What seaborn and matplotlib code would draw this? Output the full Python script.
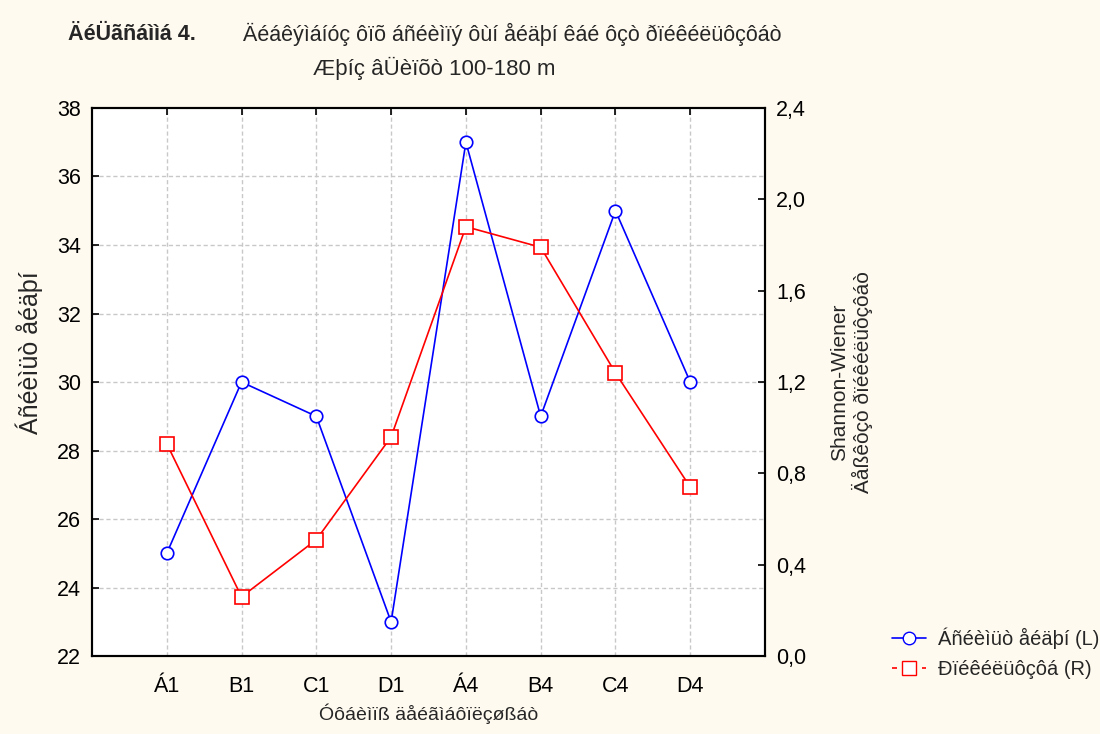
import matplotlib
matplotlib.use("Agg")
import matplotlib.pyplot as plt
import seaborn as sns
import pandas as pd
from matplotlib.lines import Line2D
from matplotlib.ticker import FuncFormatter

# Data
stations = ["Á1", "B1", "C1", "D1", "Á4", "B4", "C4", "D4"]
species_count = [25, 30, 29, 23, 37, 29, 35, 30]
diversity = [0.93, 0.26, 0.51, 0.96, 1.88, 1.79, 1.24, 0.74]
left_ticks = [22, 24, 26, 28, 30, 32, 34, 36, 38]
right_ticks = [0.0, 0.4, 0.8, 1.2, 1.6, 2.0, 2.4]

title_bold = "ÄéÜãñáììá 4."
title_main = "Äéáêýìáíóç ôïõ áñéèìïý ôùí åéäþí êáé ôçò ðïéêéëüôçôáò"
title_sub = "Æþíç âÜèïõò 100-180 m"
xlabel = "Óôáèìïß äåéãìáôïëçøßáò"
ylabel_left = "Áñéèìüò åéäþí"
ylabel_right = "Shannon-Wiener\nÄåßêôçò ðïéêéëüôçôáò"
legend_left = "Áñéèìüò åéäþí (L)"
legend_right = "Ðïéêéëüôçôá (R)"

sns.set_theme(style="white")
plt.rcParams["font.family"] = ["Liberation Sans", "DejaVu Sans"]

df = pd.DataFrame({
    "pos": list(range(len(stations))),
    "species": species_count,
    "div": diversity,
})

bg = "#fffaef"
fig = plt.figure(figsize=(11, 7.34), dpi=100, facecolor=bg)
ax = fig.add_axes([0.0836, 0.106, 0.6119, 0.747])
ax.set_facecolor("white")
ax2 = ax.twinx()

grid_kw = dict(color="#c8c8c8", linestyle=(0, (3, 2)), linewidth=1.0, zorder=0)
for v in left_ticks[1:-1]:
    ax.axhline(v, **grid_kw)
for p in df["pos"]:
    ax.axvline(p, **grid_kw)

sns.lineplot(data=df, x="pos", y="species", ax=ax, color="#0000ff", linewidth=1.2,
             marker="o", markersize=9, markerfacecolor="white", markeredgecolor="#0000ff",
             markeredgewidth=1.2, sort=False, zorder=3)
sns.lineplot(data=df, x="pos", y="div", ax=ax2, color="#ff0000", linewidth=1.2,
             marker="s", markersize=10, markerfacecolor="white", markeredgecolor="#ff0000",
             markeredgewidth=1.2, sort=False, zorder=3)

ax.set_xlim(-1, len(stations))
ax.set_ylim(left_ticks[0], left_ticks[-1])
ax2.set_ylim(right_ticks[0], right_ticks[-1])
ax.set_yticks(left_ticks)
ax2.set_yticks(right_ticks)
ax2.yaxis.set_major_formatter(FuncFormatter(lambda v, _: f"{v:.1f}".replace(".", ",")))
ax.set_xticks(df["pos"])
ax.set_xticklabels(stations)

for a in (ax, ax2):
    for s in a.spines.values():
        s.set_color("black")
        s.set_linewidth(1.5)
        s.set_visible(True)

ax.tick_params(axis="y", direction="in", length=5, width=1.2, labelsize=15.5, pad=8,
               left=True, right=False, colors="black")
ax.tick_params(axis="x", direction="in", length=5, width=1.2, labelsize=15.5, pad=14,
               bottom=False, top=True, colors="black")
ax2.tick_params(axis="y", direction="in", length=5, width=1.2, labelsize=15.5, pad=8,
                right=True, left=False, colors="black")

ax.set_xlabel(xlabel, fontsize=14, labelpad=5)
ax.set_ylabel(ylabel_left, fontsize=18)
ax.yaxis.set_label_coords(-0.072, 0.553)
ax2.set_ylabel(ylabel_right, fontsize=15, labelpad=17)

fig.text(0.062, 0.953, title_bold, fontsize=15.5, fontweight="bold", ha="left", va="center")
fig.text(0.221, 0.953, title_main, fontsize=15.5, ha="left", va="center")
fig.text(0.395, 0.907, title_sub, fontsize=16, ha="center", va="center")

handles = [
    Line2D([], [], color="#0000ff", linewidth=1.2, marker="o", markersize=9,
           markerfacecolor="white", markeredgecolor="#0000ff"),
    Line2D([], [], color="#ff0000", linewidth=1.2, linestyle=(0, (3, 3)), marker="s",
           markersize=10, markerfacecolor="white", markeredgecolor="#ff0000"),
]
fig.legend(handles, [legend_left, legend_right], loc="upper left",
           bbox_to_anchor=(0.811, 0.145), frameon=False, fontsize=14.5,
           handlelength=1.7, handletextpad=0.6, labelspacing=0.55,
           borderaxespad=0, borderpad=0)

fig.savefig("out.png", dpi=100, facecolor=bg)
